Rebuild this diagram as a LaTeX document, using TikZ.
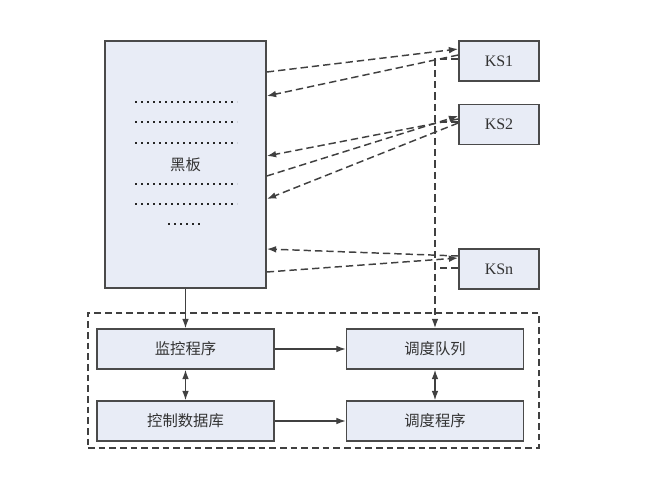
\documentclass[tikz,border=0pt]{standalone}
\usepackage{fontspec}
\setmainfont{Liberation Serif}
\newfontfamily\cjk{Noto Sans CJK SC}
\usetikzlibrary{arrows.meta}
\definecolor{boxfill}{HTML}{E8ECF6}
\definecolor{boxline}{HTML}{4A4A4A}
\definecolor{lncol}{HTML}{404040}
\definecolor{txtcol}{HTML}{333333}
\tikzset{
  box/.style={draw=boxline, line width=1.2pt, fill=boxfill, inner sep=0pt, text=txtcol},
  cbox/.style={box, minimum width=132.75pt, minimum height=30pt, font=\cjk\fontsize{11.5}{12}\selectfont},
  ksbox/.style={box, minimum width=60pt, minimum height=30pt, font=\fontsize{12}{13}\selectfont},
  dl/.style={draw=lncol, line width=1.1pt, dash pattern=on 5.5pt off 3pt},
  sl/.style={draw=lncol, line width=0.9pt},
  tip/.style={-{Latex[length=7pt,width=5pt]}},
  dtip/.style={{Latex[length=7pt,width=5pt]}-{Latex[length=7pt,width=5pt]}},
  dots/.style={draw=black!85, line width=2pt, dash pattern=on 1.8pt off 2.7pt}
}
\begin{document}
\begin{tikzpicture}[x=0.75pt, y=-0.75pt]
\useasboundingbox (0,0) rectangle (653,499);
% blackboard
\node[box, minimum width=120.75pt, minimum height=185.25pt, font=\cjk\fontsize{11.5}{12}\selectfont] (bb) at (185.5,164.5) {黑板};
\foreach \y in {102,122,143,184,204} \draw[dots] (135,\y) -- (237,\y);
\draw[dots] (168,224) -- (201,224);
% knowledge sources
\node[ksbox] (ks1) at (499,61) {KS1};
\node[ksbox] (ks2) at (499,124.5) {KS2};
\node[ksbox] (ksn) at (499,269) {KSn};
% control part
\node[draw=lncol, line width=1.1pt, dash pattern=on 5pt off 3pt, minimum width=338.25pt, minimum height=101.25pt, inner sep=0pt] (ctl) at (313.5,380.5) {};
\node[cbox] (m) at (185.5,349) {监控程序};
\node[cbox] (q) at (435,349) {调度队列};
\node[cbox] (d) at (185.5,421) {控制数据库};
\node[cbox] (s) at (435,421) {调度程序};
% blackboard <-> KS
\draw[dl, tip] (bb.east |- 0,72) -- (ks1.west |- 0,49);
\draw[dl, tip] (ks1.west |- 0,55) -- (bb.east |- 0,96);
\draw[dl, tip] (bb.east |- 0,176) -- (ks2.west |- 0,116);
\draw[dl, tip] (ks2.west |- 0,119) -- (bb.east |- 0,156);
\draw[dl, tip] (ks2.west |- 0,123) -- (bb.east |- 0,199);
\draw[dl, tip] (ksn.west |- 0,256) -- (bb.east |- 0,249);
\draw[dl, tip] (bb.east |- 0,272) -- (ksn.west |- 0,258);
% KS -> schedule queue
\draw[dl, tip] (ks1.west |- 0,59) -| (q.north);
\draw[dl] (ks2.west |- 0,122) -- (q.north |- 0,122);
\draw[dl] (ksn.west |- 0,268) -- (q.north |- 0,268);
% control flows
\draw[sl, tip] (bb.south) -- (m.north);
\draw[sl, tip] (m.east) -- (q.west);
\draw[sl, tip] (d.east) -- (s.west);
\draw[sl, dtip] (m.south) -- (d.north);
\draw[sl, dtip] (q.south) -- (s.north);
\end{tikzpicture}
\end{document}
